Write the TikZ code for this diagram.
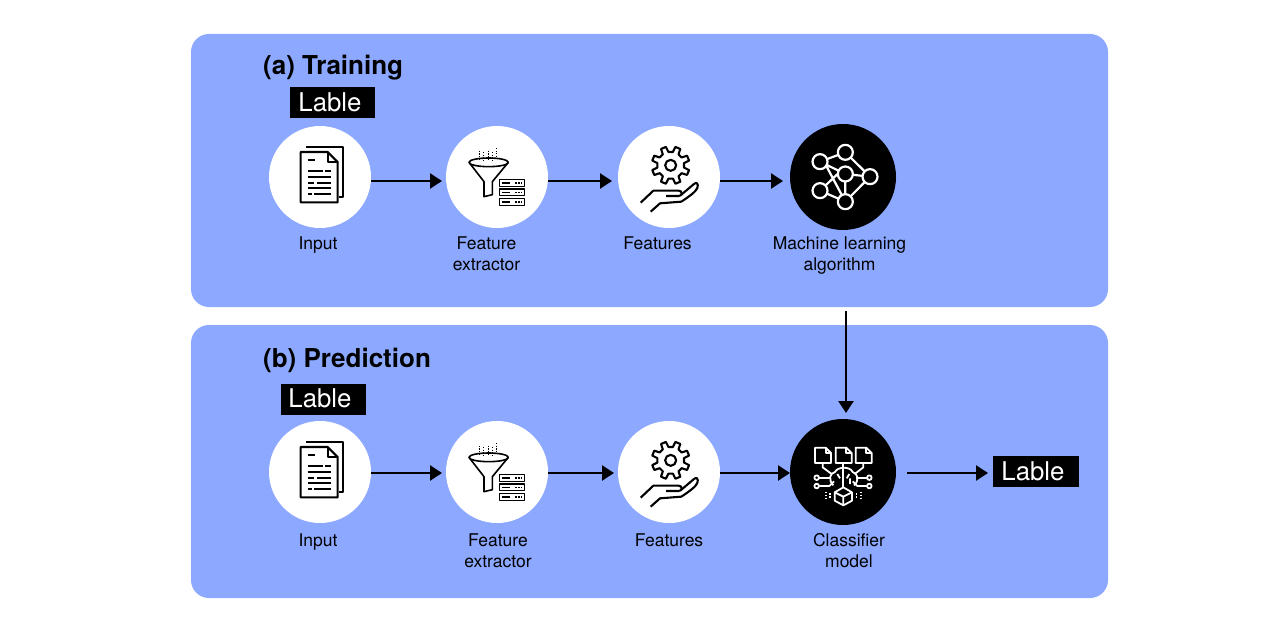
\documentclass[tikz,border=0pt]{standalone}
\usepackage{fontspec}
\setmainfont{TeX Gyre Heros}
\usetikzlibrary{arrows.meta}
\definecolor{panelblue}{HTML}{8CA8FF}
\tikzset{
  x=1pt,y=-1pt,
  panel/.style={fill=panelblue,draw=none,rounded corners=18pt},
  whitedisc/.style={circle,fill=white,draw=none,minimum size=102pt,inner sep=0pt},
  blackdisc/.style={circle,fill=black,draw=none,minimum size=106pt,inner sep=0pt},
  flow/.style={draw=black,line width=2.4pt,-{Triangle[length=12pt,width=15pt]}},
  caption/.style={font=\fontsize{17.5}{21}\selectfont,text=black,align=center,inner sep=0pt,anchor=center},
  heading/.style={font=\fontsize{26}{30}\selectfont\bfseries,text=black,inner sep=0pt,anchor=west},
  tag/.style={fill=black,text=white,font=\fontsize{25.8}{30}\selectfont,inner sep=0pt,minimum height=31pt,minimum width=85.5pt,anchor=center},
  ink/.style={draw=black,line width=2.1pt,line join=round,line cap=butt},
  thinink/.style={draw=black,line width=1.6pt,line join=round},
  wink/.style={draw=white,line width=1.8pt,line join=round},
  zoomA/.style={x=0.33333pt,y=-0.33333pt,shift={(260pt,-120pt)}},
  zoomB/.style={x=0.33333pt,y=-0.33333pt,shift={(610pt,-120pt)}},
  zoomC/.style={x=0.33333pt,y=-0.33333pt,shift={(780pt,-410pt)}},
}
\newcommand{\docicon}{%
\begin{scope}[zoomA]
  \draw[ink] (138,80) -- (250,80) -- (250,232) -- (236,232);
  \draw[ink,fill=white] (122,96) -- (203,96) -- (233,126) -- (233,247) -- (122,247) -- cycle;
  \draw[ink] (203,96) -- (203,126) -- (233,126);
  \foreach \ya/\xa/\xb/\xc/\xd in {120/143/166/166/166,154/143/190/196/213,171/143/213/213/213,188/143/162/170/213,205/143/213/213/213,222/143/155/162/213}{
    \draw[ink] (\xa,\ya) -- (\xb,\ya) (\xc,\ya) -- (\xd,\ya);
  }
\end{scope}}
\newcommand{\funnelicon}{%
\begin{scope}[zoomA]
  \draw[thinink] (686,127) ellipse [x radius=59pt/3,y radius=13pt/3];
  \draw[thinink] (627,127) -- (672,185) -- (672,230) -- (697,224) -- (697,185) -- (745,127);
  \foreach \xa/\ya/\yb in {659/92/122,671/96/126,684/92/122,697/96/122,709/84/118}{
    \draw[black,line width=1pt,dash pattern=on 1.3pt off 1.3pt] (\xa,\ya) -- (\xa,\yb);
  }
  \foreach \ya in {179,207,236}{
    \draw[thinink] (719,\ya) rectangle (793,\ya+20);
    \draw[black,line width=1.6pt] (726,\ya+10) -- (750,\ya+10);
    \draw[black,line width=1.3pt,dash pattern=on 1.5pt off 1.5pt] (765,\ya+10) -- (786,\ya+10);
  }
\end{scope}}
\newcommand{\gearicon}{%
\begin{scope}[zoomB]
  \draw[ink] (182,136) circle [radius=5.5pt];
  \draw[ink] ([shift={(182,136)}]9.5:13.5pt)
    foreach \a in {0,45,...,315} { -- ([shift={(182,136)}]\a+22.5-13:13.5pt) -- ([shift={(182,136)}]\a+22.5-8:19pt) -- ([shift={(182,136)}]\a+22.5+8:19pt) -- ([shift={(182,136)}]\a+22.5+13:13.5pt) } -- cycle;
  \draw[ink] (92,248) -- (130,212) -- (206,212) .. controls (218,212) and (218,228) .. (206,228) -- (168,228);
  \draw[ink] (214,224) -- (252,192) .. controls (260,184) and (266,192) .. (262,204) .. controls (258,214) and (240,228) .. (214,245) -- (150,250) -- (122,275);
\end{scope}}
\begin{document}
\begin{tikzpicture}
\useasboundingbox (0,0) rectangle (1281,628);
\fill[white] (0,0) rectangle (1281,628);
\node[panel,minimum width=917pt,minimum height=273pt,inner sep=0pt] (panelA) at (649.5,170.5) {};
\node[panel,minimum width=917pt,minimum height=273pt,inner sep=0pt] (panelB) at (649.5,461.5) {};
\node[heading] (titleA) at (263,67.5) {(a) Training};
\node[heading] (titleB) at (263,360) {(b) Prediction};
\node[tag] (tagA) at (332.5,102.5) {Lable\kern5pt};
\node[tag] (tagB) at (323.5,399) {\raisebox{1pt}{Lable}\kern7pt};
\node[tag] (tagC) at (1036,471.5) {\raisebox{0.5pt}{Lable}\kern6pt};

\node[whitedisc] (a1) at (320,177) {};
\node[whitedisc] (a2) at (497,177) {};
\node[whitedisc] (a3) at (669,177) {};
\node[blackdisc] (a4) at (843,177) {};
\node[whitedisc] (b1) at (320,472) {};
\node[whitedisc] (b2) at (497,472) {};
\node[whitedisc] (b3) at (669,472) {};
\node[blackdisc] (b4) at (843,472) {};

\docicon \funnelicon \gearicon
\begin{scope}[yshift=-295pt]
\docicon \funnelicon \gearicon
\end{scope}

% neural network
\begin{scope}[zoomB]
  \draw[wink,line width=2.2pt] (630,125) -- (706,97) (650,140) -- (706,245) (706,97) -- (780,170) (630,212) -- (706,140) (706,162) -- (706,245) (706,245) -- (780,170) (630,212) -- (706,245) (630,125) -- (706,162) (706,162) -- (780,170);
  \foreach \px/\py in {630/125,706/97,706/162,780/170,630/212,706/245}{
    \draw[wink,line width=2.2pt,fill=black] (\px,\py) circle [radius=7.5pt];
  }
\end{scope}

% classifier model
\begin{scope}[zoomC]
  \foreach \dx in {0,62,122}{
    \draw[wink] (105+\dx,113) -- (137+\dx,113) -- (153+\dx,129) -- (153+\dx,159) -- (105+\dx,159) -- cycle;
    \draw[wink] (137+\dx,113) -- (137+\dx,129) -- (153+\dx,129);
  }
  \draw[wink] (128,159) -- (128,172) -- (155,192);
  \draw[wink] (190,159) -- (190,172);
  \draw[wink] (250,159) -- (250,172) -- (224,192);
  \draw[wink] (118,203) -- (152,203);
  \draw[wink] (118,228) -- (148,228) -- (162,214);
  \draw[wink] (260,203) -- (228,203);
  \draw[wink] (260,228) -- (232,228) -- (218,214);
  \draw[wink] (110,203) circle [radius=2.3pt] (110,228) circle [radius=2.3pt] (268,203) circle [radius=2.3pt] (268,228) circle [radius=2.3pt];
  \draw[wink] (160,226) .. controls (145,210) and (148,190) .. (165,186) .. controls (172,170) and (210,168) .. (218,186) .. controls (235,192) and (238,212) .. (222,226);
  \draw[wink] (190,172) -- (190,232);
  \draw[wink] (172,192) -- (180,205) (208,192) -- (200,205) (210,205) -- (210,222);
  \draw[wink] (190,232) -- (216,247) -- (216,272) -- (190,286) -- (164,272) -- (164,247) -- cycle;
  \draw[wink] (164,247) -- (190,260) -- (216,247) (190,260) -- (190,286);
  \draw[white,line width=1.1pt,dash pattern=on 1.5pt off 1.5pt] (138,245) -- (138,272) (150,250) -- (150,268) (230,250) -- (230,268) (243,245) -- (243,272);
\end{scope}

\node[caption] (capA1) at (318,245.5) {Input};
\node[caption] (capA2) at (486.5,254) {Feature\\extractor};
\node[caption] (capA3) at (657.5,243.5) {Features};
\node[caption] (capA4) at (839.5,256) {Machine learning\\algorithm};
\node[caption] (capB1) at (318,542.5) {Input};
\node[caption] (capB2) at (498,551) {Feature\\extractor};
\node[caption] (capB3) at (669,540.5) {Features};
\node[caption] (capB4) at (849,551) {Classifier\\model};

\coordinate (fa1) at (a1.east |- 0,181);
\coordinate (ta2) at (442,181);
\coordinate (fa2) at (a2.east |- 0,181);
\coordinate (ta3) at (612,181);
\coordinate (fa3) at (a3.east |- 0,181);
\coordinate (ta4) at (783,181);
\coordinate (fb1) at (b1.east |- 0,473);
\coordinate (tb2) at (442,473);
\coordinate (fb2) at (b2.east |- 0,473);
\coordinate (tb3) at (614,473);
\coordinate (fb3) at (b3.east |- 0,473);
\coordinate (tb4) at (790,473);
\coordinate (fb4) at (907,473);
\coordinate (tc) at (988,473);
\coordinate (down1) at (846,311);
\coordinate (down2) at (846,413);
\draw[flow] (fa1) -- (ta2);
\draw[flow] (fa2) -- (ta3);
\draw[flow] (fa3) -- (ta4);
\draw[flow] (fb1) -- (tb2);
\draw[flow] (fb2) -- (tb3);
\draw[flow] (fb3) -- (tb4);
\draw[flow] (fb4) -- (tc);
\draw[flow] (down1) -- (down2);
\end{tikzpicture}
\end{document}
